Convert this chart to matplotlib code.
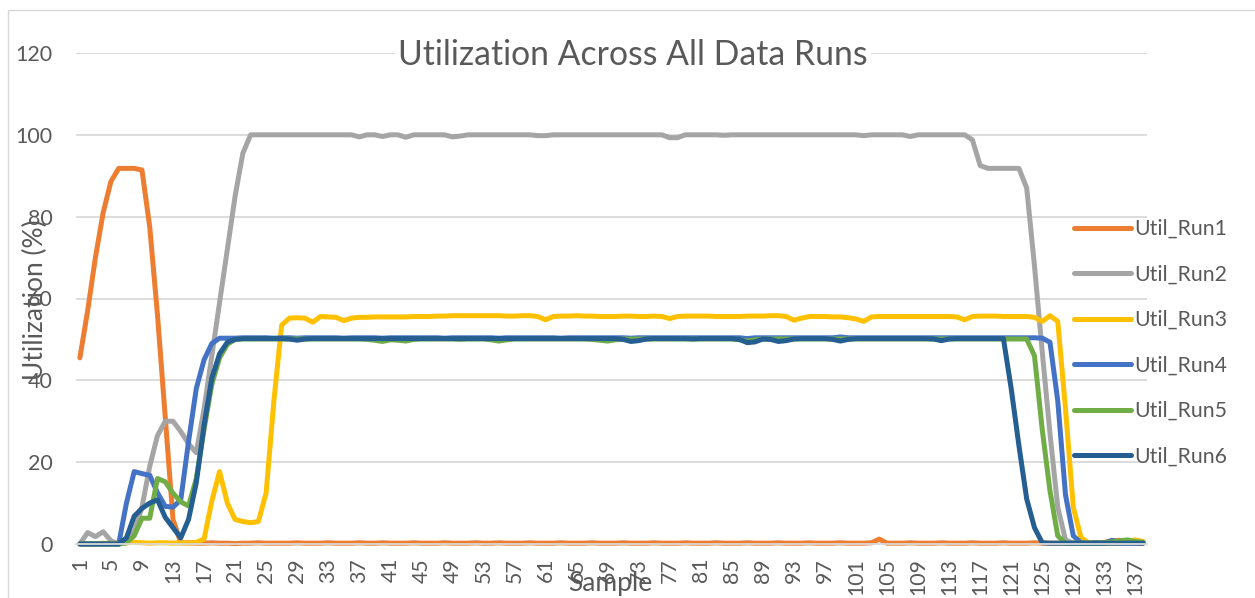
import numpy as np
import matplotlib
matplotlib.use("Agg")
import matplotlib.pyplot as plt
from matplotlib.patches import Rectangle

plt.rcParams['font.family'] = ['Lato', 'DejaVu Sans']

samples = np.arange(1, 139)
series_names = ["Util_Run1", "Util_Run2", "Util_Run3", "Util_Run4", "Util_Run5", "Util_Run6"]
colors = ["#ED7D31", "#A5A5A5", "#FFC000", "#4472C4", "#70AD47", "#255E91"]
yticks = [0, 20, 40, 60, 80, 100, 120]
xtick_labels = list(range(1, 139, 4))

run1 = [45.5, 57, 70, 81, 88.6, 91.8, 91.8, 91.8, 91.4, 77.5, 56, 31, 6, 0.3,
        0.3, 0.2, 0.2, 0.3, 0.2, 0.2, 0.1, 0.2, 0.2, 0.3,
        0.2, 0.2, 0.2, 0.2, 0.3, 0.2, 0.2, 0.2, 0.3, 0.2,
        0.2, 0.2, 0.3, 0.2, 0.2, 0.3, 0.2, 0.2, 0.2, 0.3,
        0.2, 0.2, 0.2, 0.3, 0.2, 0.2, 0.2, 0.3, 0.2, 0.2,
        0.3, 0.2, 0.2, 0.2, 0.3, 0.2, 0.2, 0.2, 0.3, 0.2,
        0.2, 0.2, 0.3, 0.2, 0.2, 0.2, 0.3, 0.2, 0.2, 0.2,
        0.3, 0.2, 0.2, 0.2, 0.3, 0.2, 0.2, 0.2, 0.3, 0.2,
        0.2, 0.2, 0.3, 0.2, 0.2, 0.2, 0.3, 0.2, 0.2, 0.2,
        0.3, 0.2, 0.2, 0.2, 0.3, 0.2, 0.2, 0.2, 0.3, 1.2,
        0.2, 0.2, 0.2, 0.3, 0.2, 0.2, 0.2, 0.3, 0.2, 0.2,
        0.2, 0.3, 0.2, 0.2, 0.2, 0.3, 0.2, 0.2, 0.2, 0.3,
        0.2, 0.2, 0.2, 0.3, 0.2, 0.2, 0.2, 0.3, 0.4, 0.8,
        0.9, 0.6, 0.4, 0.3]

run2 = [0, 2.8, 1.8, 3, 0.8, 0, 0.3, 3, 9, 19, 26.5, 30, 30, 27.5, 24.5, 22.3, 33, 46, 59, 72, 85, 95.5, 100,
        100, 100, 100, 100, 100, 100, 100, 100, 100, 100, 100, 100, 100,
        99.5, 100, 100, 99.6, 100, 100, 99.4, 100, 100, 100, 100, 100, 99.5, 99.7,
        100, 100, 100, 100, 100, 100, 100, 100, 100,
        99.8, 99.8,
        100, 100, 100, 100, 100, 100, 100, 100, 100, 100, 100, 100, 100, 100, 100,
        99.3, 99.3,
        100, 100, 100, 100, 100, 99.9, 100, 100, 100, 100, 100, 100, 100, 100, 100, 100, 100, 100, 100, 100, 100, 100, 100,
        99.8,
        100, 100, 100, 100, 100,
        99.6,
        100, 100, 100, 100, 100, 100, 100,
        98.8, 92.5, 91.8, 91.8, 91.8, 91.8, 91.8, 87, 68, 47, 27, 9, 1,
        0.2, 0.2, 0.2, 0.2, 0.2, 0.2, 0.2, 0.2, 0.2, 0.2]

run3 = [0, 0, 0.1, 0.2, 0.1, 0.2, 0.3, 0.4, 0.3, 0.2, 0.3, 0.3, 0.2, 0.3, 0.2, 0.4,
        1.2, 10.5, 17.7, 10, 6, 5.5, 5.2, 5.5, 12.5, 35, 53.5, 55.2, 55.3, 55.2, 54.2, 55.6, 55.5, 55.4, 54.6, 55.2,
        55.4, 55.4, 55.5, 55.5, 55.5, 55.5, 55.5, 55.6, 55.6, 55.6, 55.7, 55.7, 55.8, 55.8, 55.8, 55.8, 55.8, 55.8,
        55.8, 55.7, 55.7, 55.8, 55.8, 55.6,
        54.8,
        55.6, 55.7, 55.7, 55.8, 55.7, 55.7, 55.6, 55.6, 55.6, 55.7, 55.7, 55.6, 55.6, 55.7, 55.6,
        55.1,
        55.6, 55.7, 55.7, 55.7, 55.7, 55.6, 55.6, 55.6, 55.6, 55.7, 55.7, 55.7, 55.8, 55.8, 55.6,
        54.7,
        55.2, 55.6, 55.6, 55.6, 55.5, 55.5, 55.3, 55.0,
        54.4,
        55.5, 55.6, 55.6, 55.6, 55.6, 55.6, 55.6, 55.6, 55.6, 55.6, 55.6, 55.5,
        54.8,
        55.6, 55.7, 55.7, 55.7, 55.6, 55.6, 55.6, 55.6, 55.4,
        54.4, 55.8, 54.4, 33, 9, 1.5, 0.3,
        0.2, 0.2, 0.3, 0.5, 0.7, 1.0, 0.6]

run4 = [0, 0, 0, 0, 0, 0, 10, 17.7, 17.2, 16.8, 12.5, 9.2, 9, 10.8, 25, 38, 45, 49, 50.3,
        50.3, 50.3, 50.4, 50.4, 50.4, 50.4, 50.3, 50.4, 50.4, 50.3,
        50.4, 50.4, 50.4, 50.4, 50.4, 50.3, 50.4, 50.4, 50.4, 50.4,
        50.3, 50.4, 50.4, 50.4, 50.4, 50.4, 50.4, 50.4, 50.3, 50.4,
        50.4, 50.4, 50.4, 50.4, 50.4, 50.3, 50.4, 50.4, 50.4, 50.4,
        50.4, 50.4, 50.4, 50.3, 50.4, 50.4, 50.4, 50.4, 50.4, 50.4,
        50.4, 50.4, 50.3, 50.4, 50.4, 50.4, 50.4, 50.4, 50.4, 50.4,
        50.4, 50.4, 50.4, 50.4, 50.4, 50.4, 50.4, 50.2, 50.4, 50.4,
        50.4, 50.4, 50.4, 50.4, 50.4, 50.4, 50.4, 50.4, 50.4, 50.6,
        50.4, 50.4, 50.4, 50.4, 50.4, 50.4, 50.4, 50.4, 50.4, 50.4,
        50.4, 50.4, 50.4, 50.4, 50.4, 50.4, 50.4, 50.4, 50.4, 50.4,
        50.4, 50.4, 50.4, 50.4, 50.4, 50.3,
        49.3, 35, 12, 2, 0.3,
        0.2, 0.3, 0.2, 0.9, 0.4, 0.5, 0.3, 0.3]

run5 = [0, 0, 0, 0, 0, 0, 0.3, 2, 6.3, 6.3, 16, 15.2, 12.4, 10.3, 9.3, 16, 28, 39, 45.5, 48.8, 50,
        50.1, 50.1, 50.1, 50.1, 50.1, 50.1, 50.1, 50.1, 50.1, 50.1,
        50.1, 50.1, 50.1, 50.1, 50.1, 50.1, 50.0, 49.8, 49.5, 49.9,
        49.8, 49.6, 50.0, 50.1, 50.1, 50.1, 50.1, 50.1, 50.0, 50.1,
        50.1, 50.1, 49.9, 49.6, 49.9, 50.1, 50.1, 50.1, 50.1, 50.1,
        50.1, 50.1, 50.1, 50.1, 50.1, 50.0, 49.8, 49.6, 49.9, 50.1,
        50.1, 50.1, 50.1, 50.1, 50.1, 50.1, 50.1, 50.1, 50.1, 50.1,
        50.1, 50.1, 50.1, 50.1, 49.9, 49.6, 49.9, 50.1, 50.1, 50.1,
        50.1, 50.1, 50.1, 50.1, 50.1, 50.1, 50.1, 50.1, 50.1, 50.1,
        50.1, 50.1, 50.1, 50.1, 50.1, 50.1, 50.1, 50.1, 50.1, 50.1,
        50.1, 50.1, 50.1, 50.1, 50.1, 50.1, 50.1, 50.1, 50.1, 50.1,
        50.1, 50.1,
        46, 28, 13, 2, 0.2,
        0.2, 0.2, 0.2, 0.2, 0.3, 0.5, 0.8, 1.0, 0.6, 0.4]

run6 = [0, 0, 0, 0, 0, 0, 1.5, 6.8, 8.7, 10, 10.8, 6.5, 4, 1.5, 6, 15, 29, 40.5, 46.5, 49.3, 50,
        50.2, 50.2, 50.2, 50.2, 50.2, 50.2, 50.1, 49.8, 50.1, 50.2,
        50.2, 50.2, 50.2, 50.2, 50.2, 50.2, 50.2, 50.2, 50.2, 50.2,
        50.2, 50.2, 50.2, 50.2, 50.2, 50.2, 50.2, 50.2, 50.2, 50.2,
        50.2, 50.2, 50.2, 50.2, 50.2, 50.2, 50.2, 50.2, 50.2, 50.2,
        50.2, 50.2, 50.2, 50.2, 50.2, 50.2, 50.2, 50.2, 50.2, 50.0,
        49.5, 49.7, 50.1, 50.2, 50.2, 50.2, 50.2, 50.2, 50.1, 50.2,
        50.2, 50.2, 50.2, 50.2, 50.0, 49.2, 49.4, 50.1, 50.0, 49.5,
        49.7, 50.1, 50.2, 50.2, 50.2, 50.2, 50.0, 49.6, 50.0, 50.2,
        50.2, 50.2, 50.2, 50.2, 50.2, 50.2, 50.2, 50.2, 50.2, 50.1,
        49.7, 50.1, 50.2, 50.2, 50.2, 50.2, 50.2, 50.2, 50.2,
        38, 24, 11, 4, 0.3,
        0.2, 0.2, 0.2, 0.2, 0.2, 0.2, 0.2, 0.2, 0.2, 0.2, 0.2, 0.2, 0.2]

all_runs = [run1, run2, run3, run4, run5, run6]
for r in all_runs:
    assert len(r) == len(samples), len(r)

W, H = 1255, 598
fig = plt.figure(figsize=(W / 100, H / 100), dpi=100)

def fx(px):
    return px / W

def fy(py):
    return 1 - py / H

# chart border
fig.patches.append(Rectangle((fx(8), fy(H + 20)), fx(W + 40), fy(10) - fy(H + 20),
                             transform=fig.transFigure, fill=False,
                             edgecolor="#D9D9D9", linewidth=1.0, zorder=0))

ax = fig.add_axes([fx(76), fy(544), fx(1147) - fx(76), fy(53) - fy(544)])
ax.set_xlim(0.5, 138.5)
ax.set_ylim(0, 120)

text_color = "#595959"
lines = []
for name, c, vals in zip(series_names, colors, all_runs):
    ln, = ax.plot(samples, vals, color=c, linewidth=3.6, label=name,
                  solid_joinstyle="round", solid_capstyle="round", clip_on=False)
    lines.append(ln)

ax.set_yticks(yticks)
ax.set_yticklabels([str(v) for v in yticks])
ax.set_xticks(xtick_labels)
ax.set_xticklabels([str(v) for v in xtick_labels], rotation=90, va="top", ha="center")
ax.yaxis.grid(True, color="#D9D9D9", linewidth=1.3)
ax.set_axisbelow(True)
for s in ["top", "right", "left"]:
    ax.spines[s].set_visible(False)
ax.spines["bottom"].set_color("#D9D9D9")
ax.spines["bottom"].set_linewidth(1.3)
ax.tick_params(axis="y", length=0, pad=17, labelsize=15.5, labelcolor=text_color)
ax.tick_params(axis="x", length=0, pad=10, labelsize=15.3, labelcolor=text_color)

fig.text(fx(633), fy(55), "Utilization Across All Data Runs", ha="center", va="center",
         fontsize=24.3, color=text_color,
         bbox=dict(facecolor="white", edgecolor="none", pad=2))
fig.text(fx(35), fy(300), "Utilization (%)", rotation=90, ha="center", va="center",
         fontsize=19, color=text_color)
fig.text(fx(610), fy(584), "Sample", ha="center", va="center",
         fontsize=19, color=text_color)

fig.legend(handles=lines, labels=series_names, loc="upper left",
           bbox_to_anchor=(fx(1074), fy(219)), frameon=False, fontsize=15.3,
           handlelength=2.68, handletextpad=0.14, labelspacing=1.2,
           borderaxespad=0, borderpad=0, labelcolor=text_color)

fig.savefig("out.png", dpi=100)
